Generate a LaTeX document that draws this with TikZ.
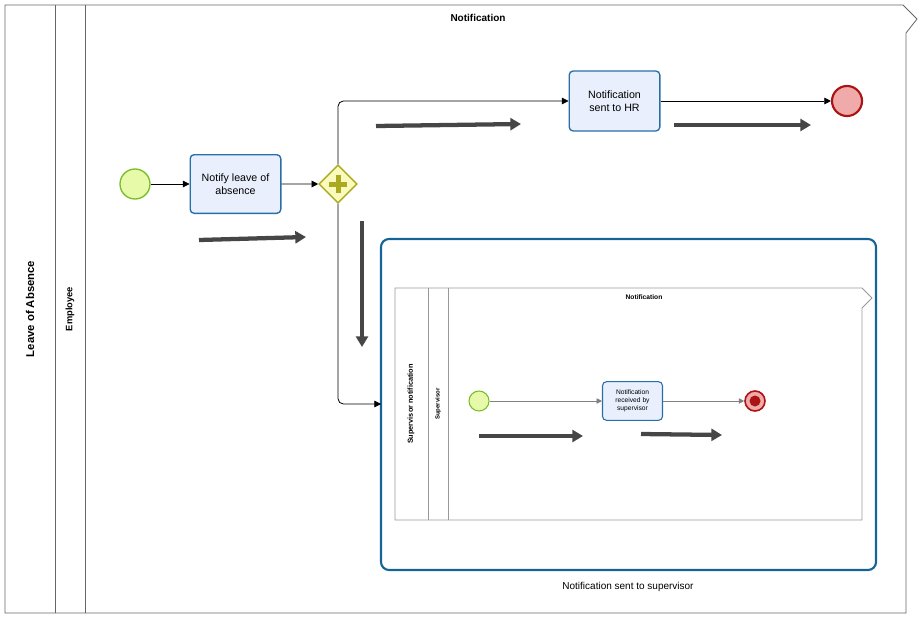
\documentclass[tikz,border=0pt]{standalone}
\usepackage{fontspec}
\setmainfont{Liberation Sans}
\usetikzlibrary{arrows.meta}

\definecolor{startFill}{RGB}{230,250,170}
\definecolor{startLine}{RGB}{120,190,40}
\definecolor{taskFill}{RGB}{233,239,252}
\definecolor{taskLine}{RGB}{40,110,170}
\definecolor{gateFill}{RGB}{250,250,190}
\definecolor{gateLine}{RGB}{170,170,30}
\definecolor{endFill}{RGB}{240,170,170}
\definecolor{endLine}{RGB}{170,20,20}
\definecolor{subLine}{RGB}{20,100,150}
\definecolor{bigArrow}{RGB}{70,70,70}

\tikzset{
  startev/.style={circle,draw=startLine,fill=startFill,line width=1pt,minimum size=#1,inner sep=0pt},
  endev/.style={circle,draw=endLine,fill=endFill,line width=1.6pt,minimum size=#1,inner sep=0pt},
  task/.style={draw=taskLine,fill=taskFill,line width=1pt,rounded corners=3pt,align=center,inner sep=0pt},
  flow/.style={-{Triangle[length=5pt,width=5pt]},line width=0.6pt,rounded corners=4pt},
  hint/.style={-{Triangle[length=8pt,width=9pt]},line width=3.2pt,draw=bigArrow},
  pool/.style={draw=black!60,line width=0.6pt},
}

\begin{document}
\begin{tikzpicture}[x=0.75pt,y=0.75pt,yscale=-1,xscale=1]
        \useasboundingbox (0,0) rectangle (923,621);

        %Outer pool
        \draw [pool] (5,5) -- (903,5) -- (917,19) -- (906,33) -- (906,613) -- (5,613) -- cycle ;
        \draw [pool] (55,5) -- (55,613) ;
        \draw [pool] (85,5) -- (85,613) ;
        \node [rotate=90,font=\bfseries\fontsize{8.5}{10}\selectfont] (poolLabel) at (30,309) {Leave of Absence};
        \node [rotate=90,font=\bfseries\fontsize{7}{8}\selectfont] (laneLabel) at (70,309) {Employee};
        \node [font=\bfseries\fontsize{7.5}{9}\selectfont] (poolTitle) at (478,18) {Notification};

        %Events, tasks, gateway
        \node [startev=22.5pt] (start) at (135,184) {};
        \node [task,minimum width=68pt,minimum height=44pt,font=\fontsize{8}{10}\selectfont] (notify) at (235.5,184) {Notify leave of\\absence};
        \node [draw=gateLine,fill=gateFill,line width=1pt,minimum size=20pt,rotate=45,inner sep=0pt] (gate) at (338,184) {};
        \fill [gateLine] (338,184) +(-2.5,-9) rectangle +(2.5,9) ;
        \fill [gateLine] (338,184) +(-9,-2.5) rectangle +(9,2.5) ;
        \node [task,minimum width=68pt,minimum height=45pt,font=\fontsize{8}{10}\selectfont] (sentHR) at (614.5,101) {Notification\\sent to HR};
        \node [endev=22.5pt] (endHR) at (847,101) {};

        %Sub-process
        \draw [draw=subLine,line width=1.6pt,rounded corners=6pt] (381,239) rectangle (876,570) ;
        \coordinate (subIn) at (381,404) ;
        \node [font=\fontsize{7.5}{9}\selectfont] (subLabel) at (628,587) {Notification sent to supervisor};

        %Inner pool
        \draw [draw=black!40,line width=0.6pt] (395,288) -- (862,288) -- (872,298) -- (862,308) -- (862,520) -- (395,520) -- cycle ;
        \draw [draw=black!40,line width=0.6pt] (428,288) -- (428,520) ;
        \draw [draw=black!40,line width=0.6pt] (448,288) -- (448,520) ;
        \node [rotate=90,font=\bfseries\fontsize{5.5}{7}\selectfont] (subPool) at (411,404) {Supervisor notification};
        \node [rotate=90,font=\bfseries\fontsize{4.5}{6}\selectfont] (subLane) at (438,404) {Supervisor};
        \node [font=\bfseries\fontsize{5}{6}\selectfont] (subTitle) at (644,297) {Notification};
        \node [startev=15pt,line width=0.8pt] (subStart) at (479,401) {};
        \node [task,minimum width=45pt,minimum height=29pt,line width=0.8pt,font=\fontsize{5}{6}\selectfont] (received) at (632.5,401) {Notification\\received by\\supervisor};
        \node [endev=15pt,line width=1.2pt] (subEnd) at (755,401) {};
        \fill [endLine] (subEnd) circle (5.5) ;

        %Sequence flows
        \draw [flow] (start) -- (notify) ;
        \draw [flow] (notify) -- (gate) ;
        \draw [flow] (gate.north east) |- (sentHR) ;
        \draw [flow] (sentHR) -- (endHR) ;
        \draw [flow] (gate.south west) |- (subIn) ;
        \draw [flow,draw=black!50,line width=0.5pt,-{Triangle[length=4pt,width=4pt]}] (subStart) -- (received) ;
        \draw [flow,draw=black!50,line width=0.5pt,-{Triangle[length=4pt,width=4pt]}] (received) -- (subEnd) ;

        %Hint arrows
        \coordinate (h1a) at (199,240) ; \coordinate (h1b) at (306,237) ;
        \coordinate (h2a) at (376,126) ; \coordinate (h2b) at (521,124) ;
        \coordinate (h3a) at (674,125) ; \coordinate (h3b) at (811,125) ;
        \coordinate (h4a) at (362,221) ; \coordinate (h4b) at (362,347) ;
        \coordinate (h5a) at (479,436) ; \coordinate (h5b) at (583,436) ;
        \coordinate (h6a) at (641,434) ; \coordinate (h6b) at (722,435) ;
        \foreach \a/\b in {h1a/h1b,h2a/h2b,h3a/h3b,h4a/h4b,h5a/h5b,h6a/h6b}
          \draw [hint] (\a) -- (\b) ;

\end{tikzpicture}
\end{document}
